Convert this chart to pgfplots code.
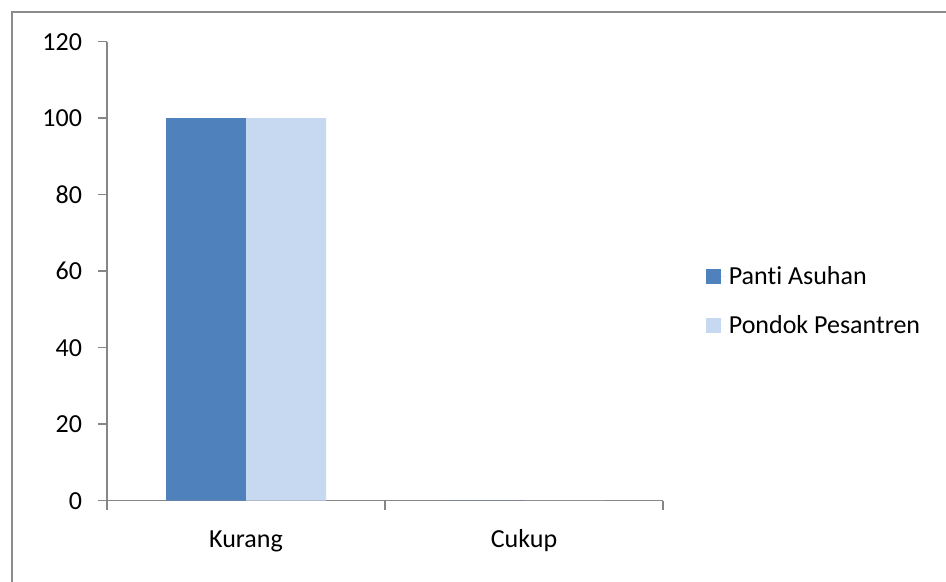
\documentclass[border=0pt]{standalone}
\usepackage{pgfplots}
\pgfplotsset{compat=1.18}
\usepackage{fontspec}
\setmainfont{Carlito}[Ligatures=NoCommon]

\definecolor{frameGray}{HTML}{8C8C8C}
\definecolor{axisGray}{HTML}{868686}
\definecolor{seriesA}{HTML}{4F81BD}
\definecolor{seriesB}{HTML}{C6D9F1}

\begin{document}
\begin{tikzpicture}[x=0.5pt,y=0.5pt]
  \useasboundingbox (0,0) rectangle (946,582);
  % outer chart frame (only the top and left edges fall inside the page)
  \draw[frameGray, line width=1.25pt] (12,-5) -- (12,570) -- (960,570);

  \begin{axis}[
    at={(53.5pt,40.65pt)}, anchor=south west,
    scale only axis,
    width=278pt, height=229.5pt,
    xmin=0, xmax=2,
    ymin=0, ymax=120,
    ytick={0,20,...,120},
    % category separators as ticks, category names centred between them
    xtick={0,1,2},
    xticklabels={},
    extra x ticks={0.5,1.5},
    extra x tick labels={Kurang,Cukup},
    extra x tick style={major tick length=0pt,
      xticklabel style={yshift=-11pt}},
    axis x line*=bottom,
    axis y line*=left,
    axis line style={axisGray, line width=0.75pt},
    tick align=outside,
    major tick length=4.5pt,
    tick style={draw=axisGray, line width=0.75pt},
    tick label style={font=\fontsize{13}{15}\selectfont, text=black},
    /pgf/number format/assume math mode=true,
    yticklabel style={xshift=-4.5pt},
    xticklabel style={text height=9pt, text depth=3pt},
    ybar,
    bar width=40pt,
    legend style={at={(rel axis cs:1.077,0.435)}, anchor=west,
      draw=none, fill=none, font=\fontsize{13}{15}\selectfont,
      row sep=10pt, inner sep=0pt, legend cell align=left},
    legend image code/.code={%
      \path (0pt,0pt) -- (9.3pt,0pt);
      \fill[#1] (0pt,-3.7pt) rectangle (7.3pt,3.7pt);},
  ]
    \addplot[fill=seriesA, draw=none, bar shift=-20pt] coordinates {(0.5,100) (1.5,0)};
    \addplot[fill=seriesB, draw=none, bar shift=20pt] coordinates {(0.5,100) (1.5,0)};
    \legend{Panti Asuhan, Pondok Pesantren}
  \end{axis}
\end{tikzpicture}
\end{document}
